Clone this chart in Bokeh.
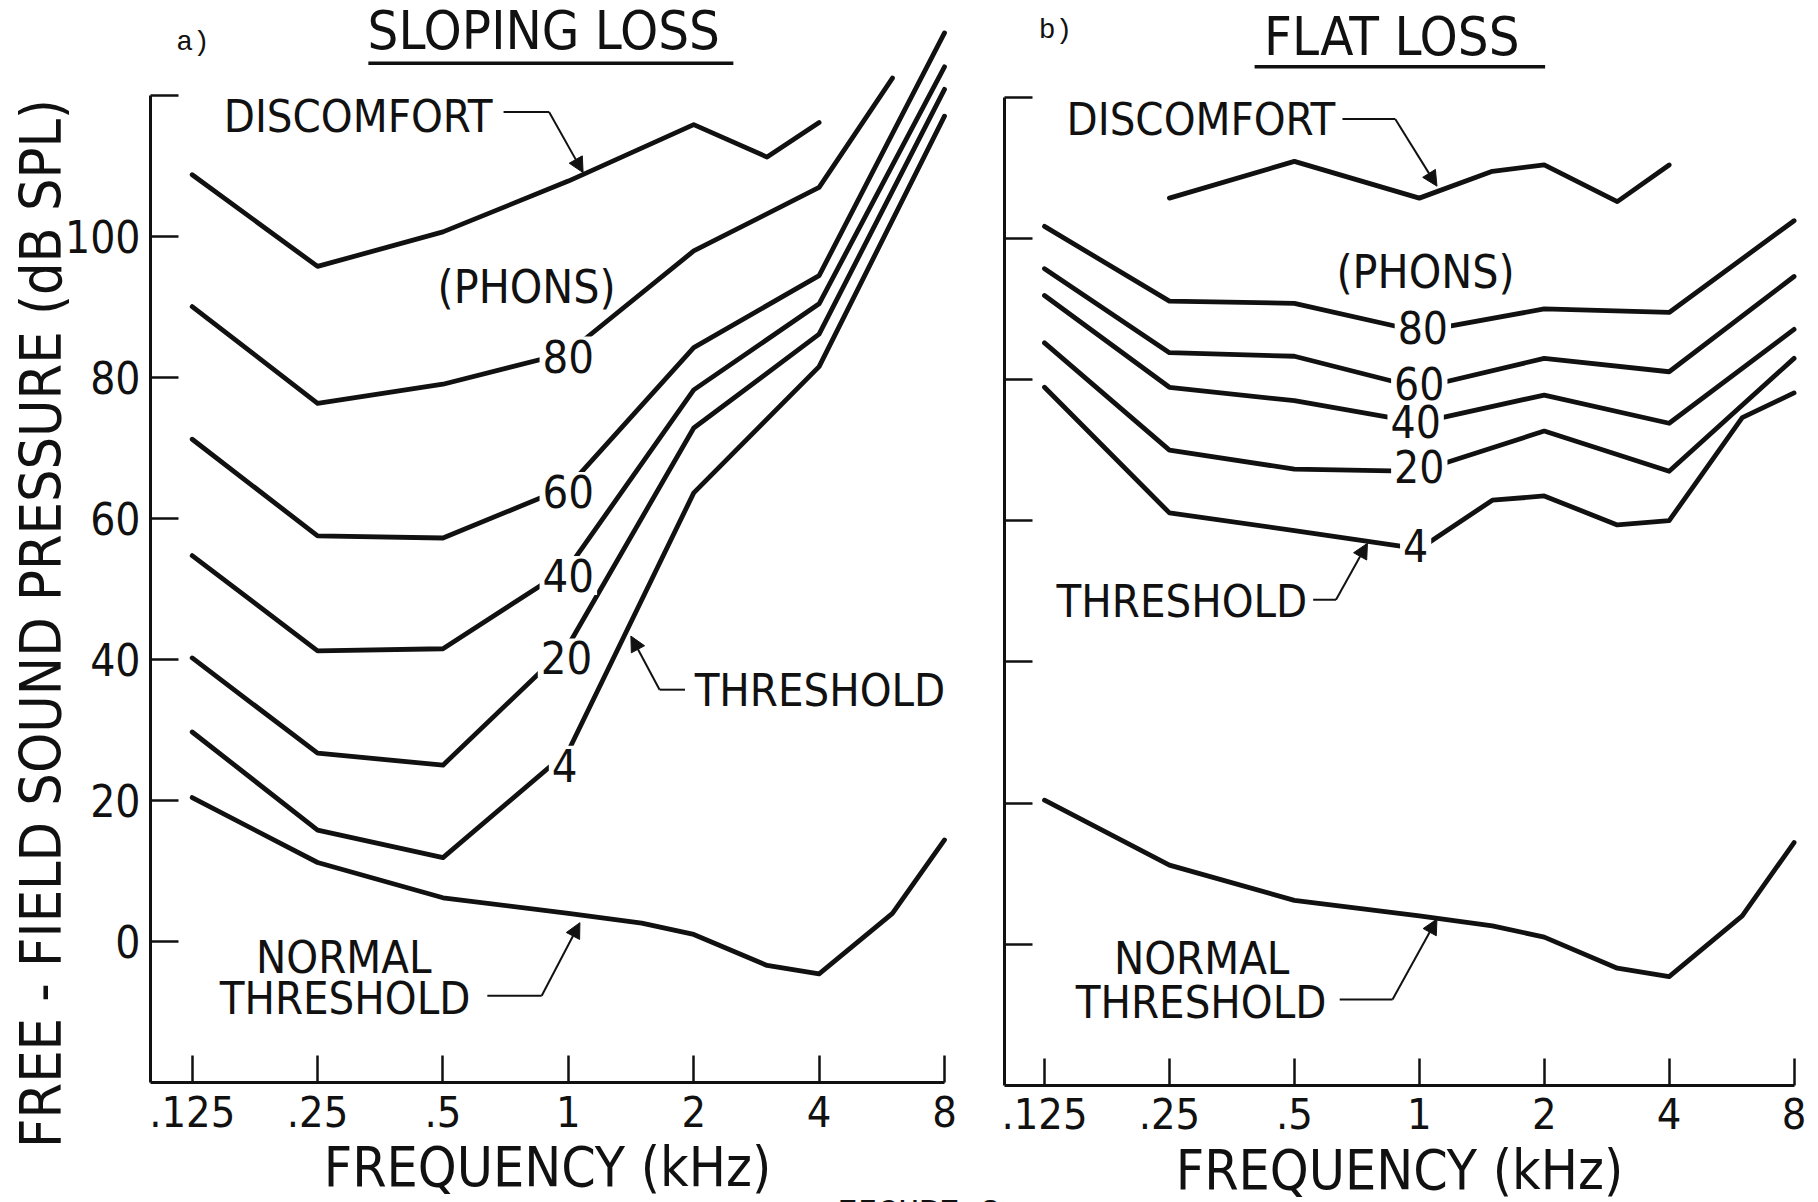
from math import pi
from bokeh.plotting import figure
from bokeh.models import (Range1d, FixedTicker, Label, Arrow, NormalHead,
                          CustomLabelingPolicy)
from bokeh.layouts import row
from bokeh.embed import file_html
from bokeh.resources import INLINE

# ---------------- data (frequency in kHz, level in dB SPL) ----------------
FREQ_TICKS = [0.125, 0.25, 0.5, 1, 2, 4, 8]
FREQ_LABELS = [".125", ".25", ".5", "1", "2", "4", "8"]
DB_TICKS = [0, 20, 40, 60, 80, 100, 120]

NORMAL_F = [0.125, 0.25, 0.5, 1, 1.5, 2, 3, 4, 6, 8]
NORMAL_DB = [20.4, 11.2, 6.2, 4.0, 2.6, 1.0, -3.4, -4.6, 4.0, 14.4]

# a) sloping loss
SLOPE_DISC_F = [0.125, 0.25, 0.5, 1, 2, 3, 4]
SLOPE_DISC_DB = [108.7, 95.7, 100.6, 107.8, 115.8, 111.2, 116.1]
SLOPE_80_F = [0.125, 0.25, 0.5, 1, 2, 4, 6]
SLOPE_80 = [90.0, 76.3, 79.0, 83.5, 97.9, 106.9, 122.4]
SLOPE_F = [0.125, 0.25, 0.5, 1, 2, 4, 8]
SLOPE_60 = [71.2, 57.5, 57.2, 64.5, 84.2, 94.4, 128.8]
SLOPE_40 = [54.7, 41.2, 41.5, 53.0, 78.2, 90.4, 124.0]
SLOPE_20 = [40.2, 26.7, 25.0, 42.0, 72.8, 86.1, 120.8]
SLOPE_4 = [29.7, 15.8, 11.9, 27.0, 63.6, 81.5, 117.0]

# b) flat loss
FLAT_DISC_F = [0.25, 0.5, 1, 1.5, 2, 3, 4]
FLAT_DISC_DB = [105.7, 110.9, 105.7, 109.5, 110.4, 105.2, 110.4]
FLAT_F = [0.125, 0.25, 0.5, 1, 2, 4, 8]
FLAT_80 = [101.7, 91.1, 90.8, 86.8, 90.0, 89.5, 102.5]
FLAT_60 = [95.7, 83.8, 83.3, 78.8, 83.0, 81.1, 94.6]
FLAT_40 = [91.9, 78.9, 77.0, 73.9, 77.8, 73.8, 87.1]
FLAT_20 = [85.2, 70.0, 67.3, 67.0, 72.7, 67.0, 83.0]
FLAT_4_F = [0.125, 0.25, 0.5, 1, 1.5, 2, 3, 4, 6, 8]
FLAT_4 = [78.9, 61.1, 58.6, 56.0, 62.9, 63.5, 59.4, 60.0, 74.6, 78.1]

PHON_NAMES = ["80", "60", "40", "20", "4"]
SLOPE_PHON_POS = [(1.0, 83.0), (1.0, 63.8), (1.0, 51.9), (0.99, 40.2), (0.98, 25.0)]
FLAT_PHON_POS = [(1.02, 87.4), (1.0, 79.4), (0.98, 74.1), (1.0, 67.7), (0.98, 56.5)]

# ---------------- styling / geometry ----------------
INK = "#111111"
FONT = "Liberation Sans Narrow, DejaVu Sans Condensed, Liberation Sans, sans-serif"
MONO = "Liberation Mono"
H = 1202
W1 = 1000
W2 = 1818 - W1
# frame extents (whole canvas) chosen so both panels share the reference's geometry
X1 = (2 ** -4.5289, 2 ** 3.4467)
X2 = (2 ** -3.3522, 2 ** 3.1955)
Y1 = (-37.0, 133.4)
Y2 = (-36.6, 133.7)
Y_AXIS1_AT = 2 ** -3.3326
Y_AXIS2_AT = 2 ** -3.3202


def make_panel(width, xr, yr, yaxis_at, show_ylabels):
    p = figure(width=width, height=H, x_axis_type="log",
               x_range=Range1d(*xr), y_range=Range1d(*yr),
               output_backend="svg", toolbar_location=None,
               min_border_left=0, min_border_right=0,
               min_border_top=0, min_border_bottom=0)
    p.outline_line_color = None
    p.grid.visible = False
    p.background_fill_color = "white"
    p.border_fill_color = "white"

    xa = p.xaxis[0]
    xa.fixed_location = -20
    xa.bounds = (yaxis_at, 8)
    xa.ticker = FixedTicker(ticks=FREQ_TICKS, minor_ticks=[])
    xa.major_label_overrides = dict(zip(FREQ_TICKS, FREQ_LABELS))
    xa.major_tick_in = 27
    xa.major_tick_out = 0
    xa.minor_tick_line_color = None
    xa.major_tick_line_width = 2.5
    xa.major_tick_line_color = INK
    xa.axis_line_width = 3
    xa.axis_line_color = INK
    xa.major_label_text_font = FONT
    xa.major_label_text_font_size = "43px"
    xa.major_label_text_color = INK
    xa.major_label_standoff = 13
    xa.axis_label = "FREQUENCY (kHz)"
    xa.axis_label_text_font = FONT
    xa.axis_label_text_font_size = "55px"
    xa.axis_label_text_font_style = "normal"
    xa.axis_label_text_color = INK
    xa.axis_label_standoff = 5

    ya = p.yaxis[0]
    ya.fixed_location = yaxis_at
    ya.ticker = FixedTicker(ticks=DB_TICKS, minor_ticks=[])
    ya.bounds = (-20, 120)
    ya.major_tick_in = 28
    ya.major_tick_out = 0
    ya.minor_tick_line_color = None
    ya.major_tick_line_width = 2.5
    ya.major_tick_line_color = INK
    ya.axis_line_width = 3
    ya.axis_line_color = INK
    ya.major_label_text_font = FONT
    ya.major_label_text_font_size = "44px"
    ya.major_label_text_color = INK
    ya.major_label_standoff = 10
    if show_ylabels:
        # label every tick except the unlabelled top one (120)
        ya.major_label_policy = CustomLabelingPolicy(
            code="indices.unset(indices.size - 1); return indices")
    else:
        ya.major_label_policy = CustomLabelingPolicy(
            code="for (const i of Array.from(indices)) { indices.unset(i) } return indices")
    return p


def curve(p, f, db):
    p.line(x=f, y=db, line_width=4.8, line_color=INK, line_join="round", line_cap="round")


def text(p, x, y, s, size, align="center", baseline="middle", font=FONT, bg=None,
         units="data", angle=0.0):
    kw = dict(x=x, y=y, x_units=units, y_units=units, text=s, text_font=font,
              text_font_size=f"{size}px", text_align=align, text_baseline=baseline,
              text_color=INK, angle=angle)
    if bg is not None:
        kw.update(background_fill_color=bg, padding=3)
    p.add_layout(Label(**kw))


def rule(p, x0, y0, x1, y1, w=2):
    p.add_layout(Arrow(end=None, x_start=x0, y_start=y0, x_end=x1, y_end=y1,
                       line_width=w, line_color=INK))


def leader(p, pts):
    for (x0, y0), (x1, y1) in zip(pts[:-2], pts[1:-1]):
        rule(p, x0, y0, x1, y1)
    (x0, y0), (x1, y1) = pts[-2], pts[-1]
    p.add_layout(Arrow(end=NormalHead(size=15, fill_color=INK, line_color=INK, line_width=1),
                       x_start=x0, y_start=y0, x_end=x1, y_end=y1,
                       line_width=2, line_color=INK))


# ---------------- a) sloping loss ----------------
p1 = make_panel(W1, X1, Y1, Y_AXIS1_AT, True)
curve(p1, NORMAL_F, NORMAL_DB)
curve(p1, SLOPE_DISC_F, SLOPE_DISC_DB)
curve(p1, SLOPE_80_F, SLOPE_80)
for series in (SLOPE_60, SLOPE_40, SLOPE_20, SLOPE_4):
    curve(p1, SLOPE_F, series)
for name, (fx, fy) in zip(PHON_NAMES, SLOPE_PHON_POS):
    text(p1, fx, fy, name, 45, bg="white")

text(p1, 40, H - 623, "FREE - FIELD SOUND PRESSURE (dB SPL)", 57, units="screen",
     angle=pi / 2)
text(p1, 0.1144, 127.4, "a)", 28, align="left", font=MONO)
text(p1, 0.911, 129.1, "SLOPING  LOSS", 54)
rule(p1, 0.331, 124.5, 2.49, 124.5, w=3.5)
text(p1, 0.657, 117.0, "DISCOMFORT", 45, align="right")
leader(p1, [(0.699, 117.6), (0.899, 117.6), (1.085, 109.0)])
text(p1, 0.794, 92.75, "(PHONS)", 46)
text(p1, 2.01, 35.6, "THRESHOLD", 45, align="left")
leader(p1, [(1.906, 35.7), (1.656, 35.7), (1.413, 43.3)])
text(p1, 0.289, -2.2, "NORMAL", 45)
text(p1, 0.291, -8.1, "THRESHOLD", 45)
leader(p1, [(0.639, -7.7), (0.863, -7.7), (1.066, 2.67)])
# caption, cut by the bottom edge as in the scan
text(p1, W1, -10, "FIGURE 3", 34, align="right", baseline="alphabetic",
     font=MONO, units="screen")

# ---------------- b) flat loss ----------------
p2 = make_panel(W2, X2, Y2, Y_AXIS2_AT, False)
curve(p2, NORMAL_F, NORMAL_DB)
curve(p2, FLAT_DISC_F, FLAT_DISC_DB)
for series in (FLAT_80, FLAT_60, FLAT_40, FLAT_20):
    curve(p2, FLAT_F, series)
curve(p2, FLAT_4_F, FLAT_4)
for name, (fx, fy) in zip(PHON_NAMES, FLAT_PHON_POS):
    text(p2, fx, fy, name, 44, bg="white")

text(p2, 0.121, 129.4, "b)", 28, align="left", font=MONO)
text(p2, 0.896, 128.6, "FLAT  LOSS", 54)
rule(p2, 0.401, 124.3, 2.01, 124.3, w=3.5)
text(p2, 0.627, 116.8, "DISCOMFORT", 45, align="right")
leader(p2, [(0.653, 116.9), (0.875, 116.9), (1.103, 107.4)])
text(p2, 1.035, 95.2, "(PHONS)", 46)
text(p2, 0.537, 48.6, "THRESHOLD", 45, align="right")
leader(p2, [(0.555, 48.8), (0.630, 48.8), (0.750, 56.8)])
text(p2, 0.299, -2.0, "NORMAL", 45)
text(p2, 0.298, -8.2, "THRESHOLD", 45)
leader(p2, [(0.643, -7.85), (0.862, -7.85), (1.103, 3.56)])

layout = row(p1, p2)
open("out.html", "w").write(file_html(layout, INLINE))
